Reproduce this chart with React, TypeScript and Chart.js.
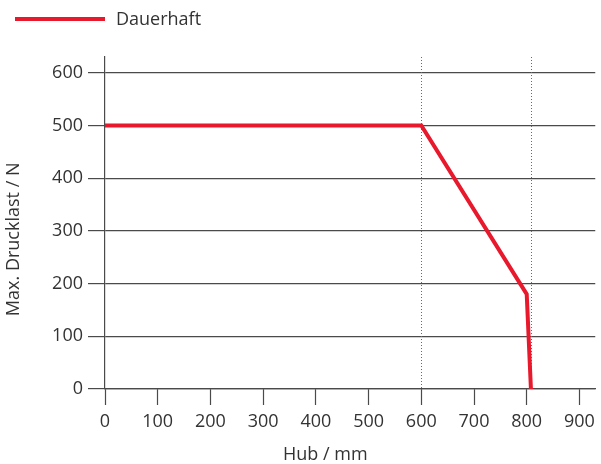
import React, { useEffect, useRef } from "react";
import { Chart, registerables } from "chart.js";

Chart.register(...registerables);

const seriesLabel = "Dauerhaft";
const hubValues = [0, 600, 800, 808];
const loadValues = [500, 500, 180, 0];
const xTicks = [0, 100, 200, 300, 400, 500, 600, 700, 800, 900];
const yTicks = [0, 100, 200, 300, 400, 500, 600];
const dottedX = [600, 808];
const xTitle = "Hub / mm";
const yTitle = "Max. Drucklast / N";

const RED = "#e8192c";
const GRID = "#4a4a4a";
const TEXT = "#333333";
const FONT = "'Open Sans', sans-serif";
const FS = 18;

const overlay = {
  id: "overlay",
  beforeDatasetsDraw(chart: any) {
    const ctx = chart.ctx;
    const xs = chart.scales.x;
    const area = chart.chartArea;
    ctx.save();
    ctx.strokeStyle = "#6a6a6a";
    ctx.lineWidth = 1;
    ctx.setLineDash([1, 2]);
    dottedX.forEach((v) => {
      const px = Math.round(xs.getPixelForValue(v)) + 0.5;
      ctx.beginPath();
      ctx.moveTo(px, area.top);
      ctx.lineTo(px, area.bottom);
      ctx.stroke();
    });
    ctx.restore();
  },
  afterDraw(chart: any) {
    const ctx = chart.ctx;
    ctx.save();
    // legend
    ctx.strokeStyle = RED;
    ctx.lineWidth = 4;
    ctx.beginPath();
    ctx.moveTo(15, 19);
    ctx.lineTo(105, 19);
    ctx.stroke();
    ctx.fillStyle = TEXT;
    ctx.font = `${FS}px ${FONT}`;
    ctx.textBaseline = "middle";
    ctx.textAlign = "left";
    ctx.fillText(seriesLabel, 116, 20);
    // x title
    ctx.textAlign = "center";
    ctx.fillText(xTitle, chart.scales.x.getPixelForValue(418), 455);
    // y title
    ctx.translate(14, chart.scales.y.getPixelForValue(284));
    ctx.rotate(-Math.PI / 2);
    ctx.fillText(yTitle, 0, 0);
    ctx.restore();
  },
};

export default function App() {
  const ref = useRef<HTMLCanvasElement | null>(null);
  useEffect(() => {
    document.body.style.margin = "0";
    const chart = new Chart(ref.current!, {
      type: "line",
      data: {
        datasets: [
          {
            label: seriesLabel,
            data: hubValues.map((x, i) => ({ x, y: loadValues[i] })),
            borderColor: RED,
            borderWidth: 4,
            pointRadius: 0,
            tension: 0,
            fill: false,
          },
        ],
      },
      options: {
        animation: false,
        responsive: false,
        layout: { padding: { left: 0, right: 4, top: 57, bottom: 0 } },
        plugins: { legend: { display: false }, tooltip: { enabled: false } },
        scales: {
          x: {
            type: "linear",
            min: 0,
            max: 930,
            afterBuildTicks: (s: any) => {
              s.ticks = xTicks.map((v) => ({ value: v }));
            },
            afterFit: (s: any) => {
              s.height = 75;
            },
            ticks: { color: TEXT, font: { family: FONT, size: FS }, padding: 6 },
            grid: {
              color: "rgba(0,0,0,0)",
              lineWidth: 1,
              tickColor: GRID,
              tickLength: 16,
              tickWidth: 1.2,
            } as any,
            border: { color: GRID, width: 1.2 },
            title: { display: false },
          },
          y: {
            type: "linear",
            min: 0,
            max: 630,
            afterBuildTicks: (s: any) => {
              s.ticks = yTicks.map((v) => ({ value: v }));
            },
            afterFit: (s: any) => {
              s.width = 105;
            },
            ticks: { color: TEXT, font: { family: FONT, size: FS }, padding: 5 },
            grid: {
              color: GRID,
              lineWidth: 1.2,
              tickLength: 17,
              tickColor: GRID,
            },
            border: { color: GRID, width: 1.2 },
            title: { display: false },
          },
        },
      },
      plugins: [overlay],
    });
    return () => chart.destroy();
  }, []);
  return <canvas ref={ref} width={601} height={464} style={{ display: "block" }} />;
}
